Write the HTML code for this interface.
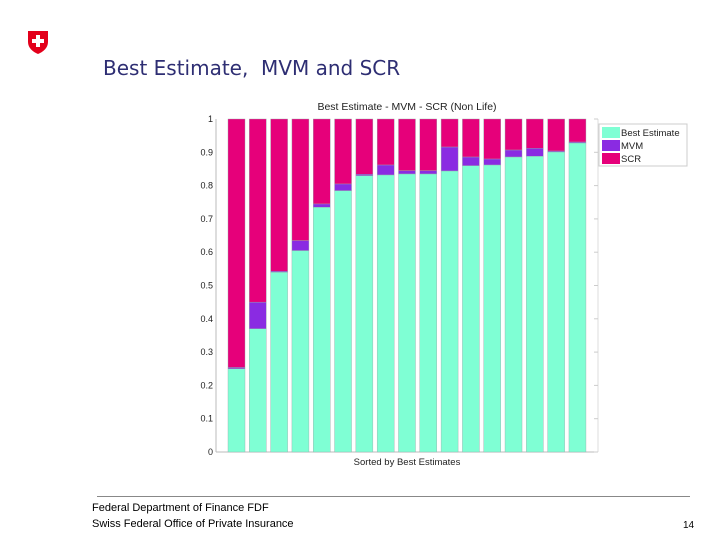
<!DOCTYPE html>
<html><head><meta charset="utf-8"><style>
body{margin:0;width:720px;height:540px;background:#fff;position:relative;overflow:hidden;font-family:"Liberation Sans",sans-serif}
.t{position:absolute;white-space:nowrap}
</style></head><body>
<svg style="position:absolute;left:27px;top:30px" width="22" height="25" viewBox="0 0 22 25">
<path d="M1 1 H21 V12 C21 18 16 22 11 24 C6 22 1 18 1 12 Z" fill="#e3001b"/>
<rect x="9" y="5" width="4" height="12" fill="#fff"/><rect x="5" y="9" width="12" height="4" fill="#fff"/>
</svg>
<div class="t" style="left:103px;top:56px;color:#2e2e73;font-family:'DejaVu Sans',sans-serif;font-size:20px">Best Estimate,&nbsp; MVM and SCR</div>
<svg id="chart" style="position:absolute;left:0;top:0" width="720" height="540"></svg>
<div style="position:absolute;left:97px;top:496px;width:593px;height:1px;background:#888"></div>
<div class="t" style="left:92px;top:502px;font-size:11px">Federal Department of Finance FDF</div>
<div class="t" style="left:92px;top:518px;font-size:11px">Swiss Federal Office of Private Insurance</div>
<div class="t" style="left:683px;top:520px;font-size:10px">14</div>
<script>
const categories=["1","2","3","4","5","6","7","8","9","10","11","12","13","14","15","16","17"];
const bestEstimate=[0.25,0.37,0.54,0.605,0.735,0.785,0.83,0.832,0.835,0.835,0.844,0.86,0.862,0.886,0.888,0.901,0.928];
const mvm=[0.004,0.08,0.003,0.03,0.01,0.02,0.004,0.03,0.01,0.01,0.072,0.026,0.018,0.021,0.024,0.003,0.003];
const yTicks=[0,0.1,0.2,0.3,0.4,0.5,0.6,0.7,0.8,0.9,1];
const legendLabels=["Best Estimate","MVM","SCR"];
const colors=["#7fffd4","#8a2be2","#e6007a"];
const NS="http://www.w3.org/2000/svg";
const svg=document.getElementById('chart');
const X0=216,X1=598,Y0=452,Y1=119;
const ys=v=>Y0-v*(Y0-Y1);
const pitch=21.31,bw=17,first=228;
const xS=i=>first+i*pitch;
function mk(tag,attrs){const e=document.createElementNS(NS,tag);for(const k in attrs)e.setAttribute(k,attrs[k]);svg.appendChild(e);return e;}
let e=mk('line',{x1:X0,y1:Y0,x2:X1,y2:Y0,stroke:'#bbb'});

e=mk('line',{x1:X0,y1:Y1,x2:X0,y2:Y0,stroke:'#bbb'});

e=mk('line',{x1:X1,y1:Y1,x2:X1,y2:Y0,stroke:'#ddd'});

yTicks.forEach(v=>{
 const y=ys(v);
 let t=mk('line',{x1:X1-4,y1:y,x2:X1,y2:y,stroke:'#ccc'});
 
 let l=mk('text',{x:213,y:y+3,'text-anchor':'end','font-size':'9','font-family':'Liberation Sans, sans-serif',fill:'#222'});
 l.textContent=String(v);
 
});
categories.forEach((c,i)=>{
 const x=xS(i),be=bestEstimate[i],m=mvm[i];
 const segs=[[0,be,0],[be,be+m,1],[be+m,1,2]];
 segs.forEach(s=>{
  const r=mk('rect',{x:x,y:ys(s[1]),width:bw,height:ys(s[0])-ys(s[1]),fill:colors[s[2]],stroke:'#9aa',"stroke-width":0.4});
  
  
 });
});
e=mk('text',{x:407,y:110,'text-anchor':'middle','font-size':'10.5','font-family':'Liberation Sans, sans-serif',fill:'#222'});
e.textContent='Best Estimate - MVM - SCR (Non Life)';

e=mk('text',{x:407,y:465,'text-anchor':'middle','font-size':'9.5','font-family':'Liberation Sans, sans-serif',fill:'#222'});
e.textContent='Sorted by Best Estimates';

e=mk('rect',{x:599,y:124,width:88,height:42,fill:'#fff',stroke:'#ccc'});

legendLabels.forEach((n,i)=>{
 let r=mk('rect',{x:602,y:127+i*13,width:18,height:11,fill:colors[i]});
 
 let t=mk('text',{x:621,y:136+i*13,'font-size':'9.5','font-family':'Liberation Sans, sans-serif',fill:'#222'});
 t.textContent=n;
 
});
</script>
</body></html>
